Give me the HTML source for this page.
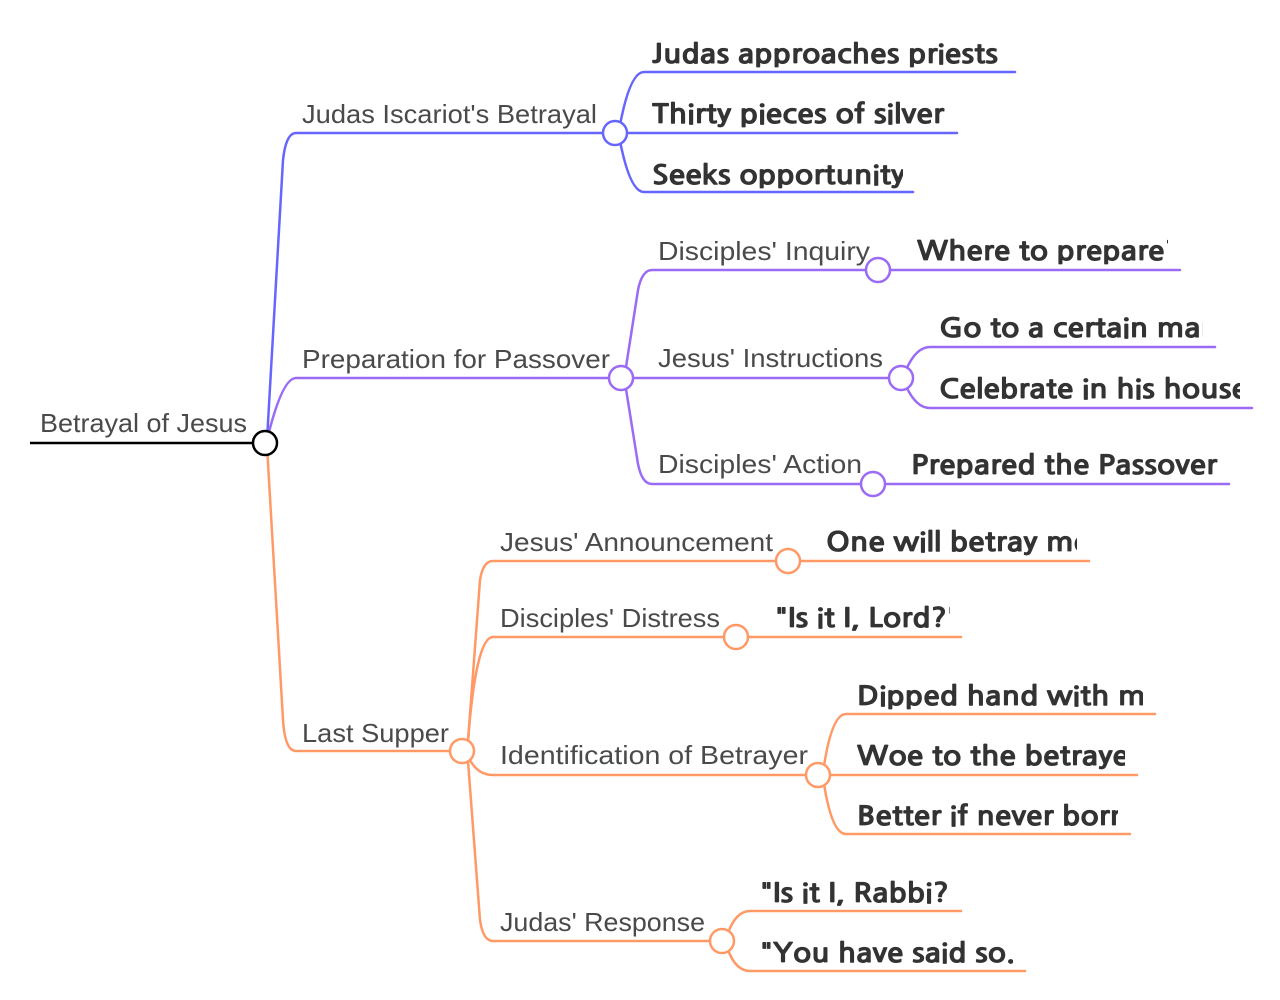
<!DOCTYPE html>
<html><head><meta charset="utf-8"><style>
html,body{margin:0;padding:0;background:#fff;}
svg{display:block;}
.l{font-family:"Liberation Sans",sans-serif;font-size:26px;fill:#4a4a4a;}
.b{font-family:"NanumGothic","Liberation Sans",sans-serif;font-size:26px;font-weight:bold;fill:#333;stroke:#333;stroke-width:0.7;}
path,line{fill:none;stroke-width:2.5;stroke-linecap:round;}
.B{stroke:#6666ff}.P{stroke:#9b6bf5}.O{stroke:#ff9966}
circle{fill:#fff;stroke-width:2.5;}
</style></head><body>
<svg width="1280" height="1000" viewBox="0 0 1280 1000" xmlns="http://www.w3.org/2000/svg">
<defs>
<clipPath id="c1"><rect x="600" y="80" width="345" height="60"/></clipPath>
<clipPath id="c2"><rect x="600" y="140" width="303" height="60"/></clipPath>
<clipPath id="c3"><rect x="900" y="220" width="268" height="50"/></clipPath>
<clipPath id="c4"><rect x="930" y="300" width="273" height="45"/></clipPath>
<clipPath id="c5"><rect x="930" y="360" width="310" height="45"/></clipPath>
<clipPath id="c6"><rect x="800" y="510" width="277" height="50"/></clipPath>
<clipPath id="c7"><rect x="760" y="590" width="190" height="45"/></clipPath>
<clipPath id="c8"><rect x="840" y="670" width="303" height="40"/></clipPath>
<clipPath id="c9"><rect x="840" y="730" width="285" height="40"/></clipPath>
<clipPath id="c10"><rect x="840" y="790" width="278" height="40"/></clipPath>
<clipPath id="c11"><rect x="740" y="865" width="210" height="45"/></clipPath>
<clipPath id="c12"><rect x="740" y="925" width="273" height="45"/></clipPath>
</defs>

<line x1="30" y1="443" x2="255" y2="443" stroke="#000" stroke-width="4.5" style="stroke-linecap:butt"/>
<text class="l" x="40" y="432" textLength="207" lengthAdjust="spacingAndGlyphs">Betrayal of Jesus</text>

<path class="B" d="M267 440 L283 160 Q286 133 296 133 L603 133"/>
<path class="P" d="M267 440 Q282 378 296 378 L609 378"/>
<path class="O" d="M267 446 L283 720 Q285 751 296 751 L450 751"/>

<text class="l" x="302" y="123" textLength="295" lengthAdjust="spacingAndGlyphs">Judas Iscariot's Betrayal</text>
<text class="l" x="302" y="368" textLength="308" lengthAdjust="spacingAndGlyphs">Preparation for Passover</text>
<text class="l" x="302" y="742" textLength="147" lengthAdjust="spacingAndGlyphs">Last Supper</text>

<path class="B" d="M620 125 Q630 72 644 72 L1015 72"/>
<path class="B" d="M627 133 L957 133"/>
<path class="B" d="M620 141 Q630 192 644 192 L913 192"/>
<text class="b" x="652" y="63" textLength="346" lengthAdjust="spacingAndGlyphs">Judas approaches priests</text>
<text class="b" x="652" y="123" clip-path="url(#c1)" textLength="292" lengthAdjust="spacingAndGlyphs">Thirty pieces of silver</text>
<text class="b" x="652" y="184" clip-path="url(#c2)" textLength="253" lengthAdjust="spacingAndGlyphs">Seeks opportunity</text>
<circle cx="615" cy="133" r="12" stroke="#6666ff"/>

<path class="P" d="M626 367 L638 290 Q642 270 652 270 L866 270"/>
<path class="P" d="M633 378 L889 378"/>
<path class="P" d="M626 389 L638 464 Q642 484 652 484 L861 484"/>
<text class="l" x="658" y="260" textLength="212" lengthAdjust="spacingAndGlyphs">Disciples' Inquiry</text>
<text class="l" x="658" y="367" textLength="225" lengthAdjust="spacingAndGlyphs">Jesus' Instructions</text>
<text class="l" x="658" y="473" textLength="204" lengthAdjust="spacingAndGlyphs">Disciples' Action</text>
<path class="P" d="M890 270 L1180 270"/>
<path class="P" d="M906 370 Q916 347 930 347 L1215 347"/>
<path class="P" d="M906 386 Q916 408 930 408 L1252 408"/>
<path class="P" d="M885 484 L1229 484"/>
<text class="b" x="917" y="260" clip-path="url(#c3)" textLength="264" lengthAdjust="spacingAndGlyphs">Where to prepare?</text>
<text class="b" x="939" y="337" clip-path="url(#c4)" textLength="280" lengthAdjust="spacingAndGlyphs">Go to a certain man</text>
<text class="b" x="939" y="398" clip-path="url(#c5)" textLength="309" lengthAdjust="spacingAndGlyphs">Celebrate in his house</text>
<text class="b" x="911" y="474" textLength="306" lengthAdjust="spacingAndGlyphs">Prepared the Passover</text>
<circle cx="878" cy="270" r="12" stroke="#9b6bf5"/>
<circle cx="901" cy="378" r="12" stroke="#9b6bf5"/>
<circle cx="873" cy="484" r="12" stroke="#9b6bf5"/>
<circle cx="621" cy="378" r="12" stroke="#9b6bf5"/>

<path class="O" d="M468 741 L480 580 Q483 561 493 561 L776 561"/>
<path class="O" d="M468 741 Q476 637 493 637 L724 637"/>
<path class="O" d="M470 760 Q478 775 493 775 L806 775"/>
<path class="O" d="M468 761 L480 920 Q483 941 493 941 L710 941"/>
<text class="l" x="500" y="551" textLength="273" lengthAdjust="spacingAndGlyphs">Jesus' Announcement</text>
<text class="l" x="500" y="627" textLength="220" lengthAdjust="spacingAndGlyphs">Disciples' Distress</text>
<text class="l" x="500" y="764" textLength="308" lengthAdjust="spacingAndGlyphs">Identification of Betrayer</text>
<text class="l" x="500" y="931" textLength="205" lengthAdjust="spacingAndGlyphs">Judas' Response</text>
<path class="O" d="M800 561 L1089 561"/>
<path class="O" d="M748 637 L961 637"/>
<path class="O" d="M824 766 Q832 714 846 714 L1155 714"/>
<path class="O" d="M830 775 L1137 775"/>
<path class="O" d="M824 784 Q832 834 846 834 L1130 834"/>
<path class="O" d="M728 933 Q736 911 750 911 L961 911"/>
<path class="O" d="M728 950 Q736 971 750 971 L1025 971"/>
<text class="b" x="826" y="551" clip-path="url(#c6)" textLength="264" lengthAdjust="spacingAndGlyphs">One will betray me</text>
<text class="b" x="775" y="627" clip-path="url(#c7)" textLength="185" lengthAdjust="spacingAndGlyphs">"Is it I, Lord?"</text>
<text class="b" x="857" y="705" clip-path="url(#c8)" textLength="305" lengthAdjust="spacingAndGlyphs">Dipped hand with me</text>
<text class="b" x="857" y="765" clip-path="url(#c9)" textLength="283" lengthAdjust="spacingAndGlyphs">Woe to the betrayer</text>
<text class="b" x="857" y="825" clip-path="url(#c10)" textLength="271" lengthAdjust="spacingAndGlyphs">Better if never born</text>
<text class="b" x="760" y="902" clip-path="url(#c11)" textLength="202" lengthAdjust="spacingAndGlyphs">"Is it I, Rabbi?"</text>
<text class="b" x="760" y="962" clip-path="url(#c12)" textLength="268" lengthAdjust="spacingAndGlyphs">"You have said so."</text>
<circle cx="788" cy="561" r="12" stroke="#ff9966"/>
<circle cx="736" cy="637" r="12" stroke="#ff9966"/>
<circle cx="818" cy="775" r="12" stroke="#ff9966"/>
<circle cx="722" cy="941" r="12" stroke="#ff9966"/>
<circle cx="462" cy="751" r="12" stroke="#ff9966"/>

<circle cx="265" cy="443" r="12" stroke="#000" stroke-width="3"/>
</svg>
</body></html>
